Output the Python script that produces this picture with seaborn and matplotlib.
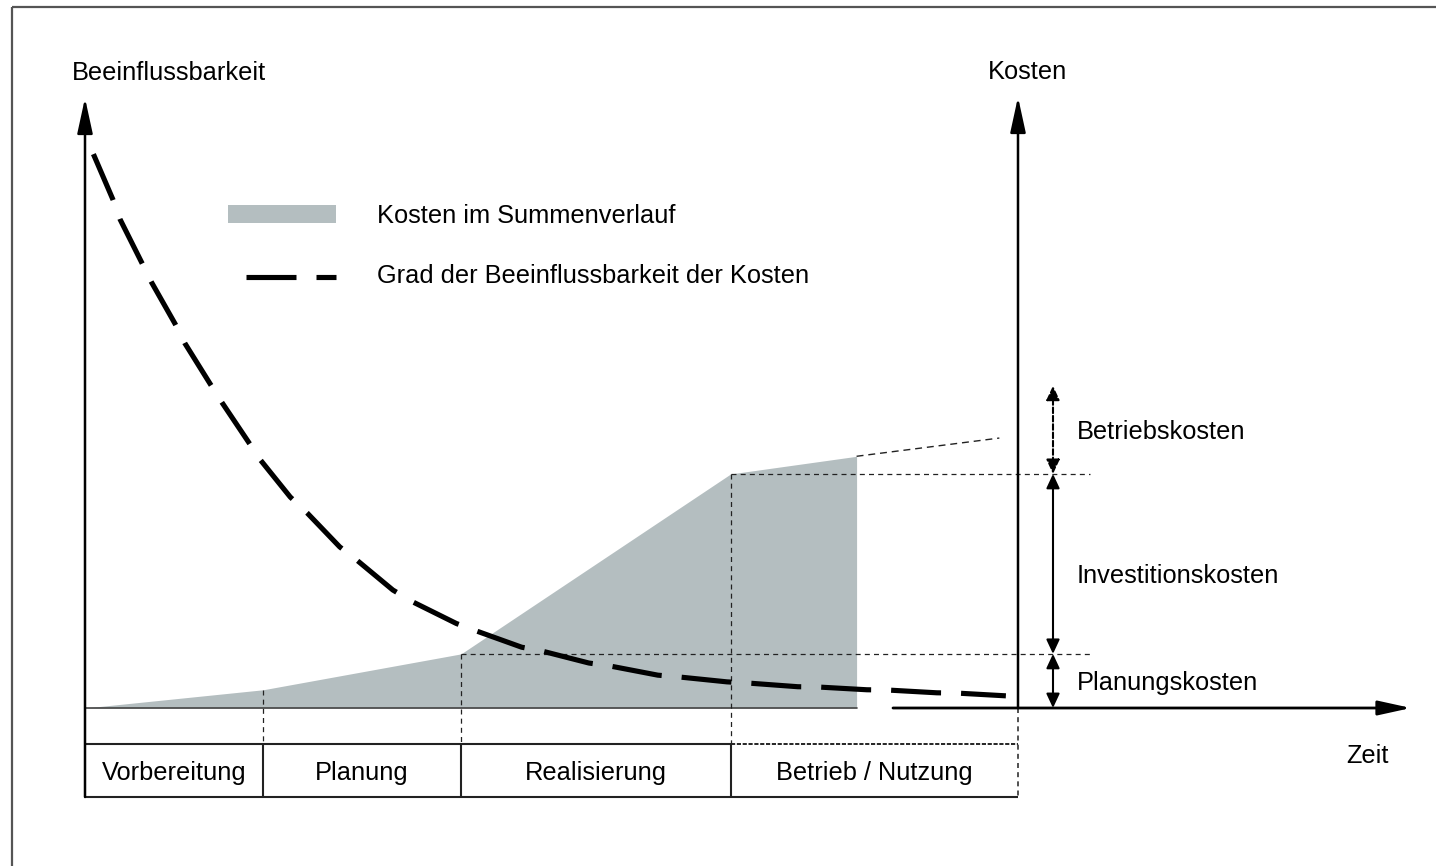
import matplotlib
matplotlib.use("Agg")
import matplotlib.pyplot as plt
import seaborn as sns
import pandas as pd

# ---------------- data ----------------
phase_names = ["Vorbereitung", "Planung", "Realisierung", "Betrieb / Nutzung"]
phase_bounds = [0.0, 1.91, 4.03, 6.92, 10.0]        # time units

cost_t = [0.0, 1.91, 4.03, 6.92, 8.27]              # cumulative cost curve
cost_v = [0.0, 3.0, 8.9, 38.5, 41.4]
cost_trend_t = [8.27, 9.8]
cost_trend_v = [41.4, 44.4]

infl_t = [0.09, 0.30, 0.375, 0.61, 0.71, 0.965, 1.07, 1.35, 1.47, 1.75, 1.88,
          2.20, 2.38, 2.73, 2.915, 3.30, 3.52, 3.98, 4.19, 4.68, 4.89, 5.40,
          5.63, 6.14, 6.37, 6.88, 7.11, 7.64, 7.86, 8.38, 8.61, 9.13, 9.35, 9.87]
infl_v = [91.1, 83.6, 80.4, 73.2, 70.1, 63.2, 60.0, 53.1, 50.2, 43.8, 40.8,
          34.7, 32.1, 26.5, 24.3, 19.4, 17.4, 13.9, 12.7, 10.0, 9.4, 7.4,
          6.9, 5.4, 5.1, 4.3, 4.1, 3.5, 3.45, 3.0, 2.95, 2.5, 2.45, 2.0]

cost_labels = ["Planungskosten", "Investitionskosten", "Betriebskosten"]
cost_levels = [0.0, 8.9, 38.5, 53.0]

legend_labels = ["Kosten im Summenverlauf", "Grad der Beeinflussbarkeit der Kosten"]
axis_labels = {"left": "Beeinflussbarkeit", "right": "Kosten", "time": "Zeit"}

# ---------------- layout ----------------
W, H, DPI = 1436, 866, 100
X0, SX = 85.0, 93.3      # pixel of t=0, pixels per time unit
Y0, SY = 708.0, 6.08     # pixel of v=0, pixels per value unit


def tx(px):
    return (px - X0) / SX


def vy(py):
    return (Y0 - py) / SY


GREY = "#b4bec0"
DARK = "#222222"
FONT = ["Liberation Sans", "DejaVu Sans"]
FS = 18.3

sns.set_theme(style="white")
plt.rcParams["font.family"] = FONT
plt.rcParams["text.color"] = "black"
plt.rcParams["lines.scale_dashes"] = False

fig = plt.figure(figsize=(W / DPI, H / DPI), dpi=DPI)
ax = fig.add_axes([0, 0, 1, 1])
ax.set_xlim(tx(0), tx(W))
ax.set_ylim(vy(H), vy(0))
ax.axis("off")

# outer frame (top and left edges visible)
ax.plot([tx(12), tx(W)], [vy(7), vy(7)], color="#555555", lw=1.6, solid_capstyle="butt")
ax.plot([tx(12), tx(12)], [vy(7), vy(H)], color="#555555", lw=1.6, solid_capstyle="butt")

# cumulative cost area
ax.fill_between(cost_t, 0, cost_v, color=GREY, lw=0, zorder=1)
ax.plot([cost_t[0], cost_t[-1]], [0, 0], color="#444444", lw=1.2, zorder=2)
ax.plot(cost_trend_t, cost_trend_v, color=DARK, lw=1.0, ls=(0, (5, 3.5)), zorder=2)

box_top, box_bot = vy(744), vy(797)
dot = (0, (3.6, 3.0))

# dotted guides
guide_right = tx(1090)
ax.plot([phase_bounds[2], guide_right], [cost_levels[1], cost_levels[1]], color=DARK, lw=0.9, ls=dot, zorder=3)
ax.plot([phase_bounds[3], guide_right], [cost_levels[2], cost_levels[2]], color=DARK, lw=0.9, ls=dot, zorder=3)
for t, v in zip(phase_bounds[1:4], cost_v[1:4]):
    ax.plot([t, t], [v, box_top], color=DARK, lw=0.9, ls=dot, zorder=3)
ax.plot([phase_bounds[4], phase_bounds[4]], [0, box_bot], color=DARK, lw=1.1, ls=dot, zorder=3)

# phase boxes
ax.plot([phase_bounds[0], phase_bounds[3]], [box_top, box_top], color=DARK, lw=1.5, solid_capstyle="butt")
ax.plot([phase_bounds[3], phase_bounds[4]], [box_top, box_top], color="black", lw=1.2, ls=(0, (3, 1.2)))
ax.plot([phase_bounds[0], phase_bounds[4]], [box_bot, box_bot], color=DARK, lw=1.5, solid_capstyle="butt")
for t in phase_bounds[1:4]:
    ax.plot([t, t], [box_top, box_bot], color=DARK, lw=1.5, solid_capstyle="butt")
for name, a, b in zip(phase_names, phase_bounds[:-1], phase_bounds[1:]):
    ax.text((a + b) / 2, vy(780), name, ha="center", va="baseline", fontsize=FS, color="black")


def arrow(x0, y0, x1, y1, hl, hw, lw, style="-|>", ls="-"):
    ax.annotate("", xy=(x1, y1), xytext=(x0, y0),
                arrowprops=dict(arrowstyle=f"{style},head_length={hl},head_width={hw}",
                                lw=lw, color="black", shrinkA=0, shrinkB=0,
                                linestyle=ls, mutation_scale=1), zorder=5)


# axes
arrow(0, box_bot, 0, vy(98), 21.6, 4.7, 1.8)
arrow(phase_bounds[4], 0, phase_bounds[4], vy(97), 21.6, 4.7, 1.8)
arrow(tx(893), 0, tx(1411), 0, 20, 4.4, 2.0)

# cost brackets
bx = tx(1053)
arrow(bx, cost_levels[0], bx, cost_levels[1], 8.6, 4.0, 1.5, style="<|-|>")
arrow(bx, cost_levels[1], bx, cost_levels[2], 8.6, 4.0, 1.5, style="<|-|>")
arrow(bx, cost_levels[2], bx, cost_levels[3], 8.6, 4.0, 1.5, style="<|-|>", ls=(0, (4, 2)))

for lab, py in zip(cost_labels, [690, 583, 439]):
    ax.text(tx(1077), vy(py), lab, ha="left", va="baseline", fontsize=FS, color="black")

# influence curve
df = pd.DataFrame({"t": infl_t, "v": infl_v})
sns.lineplot(data=df, x="t", y="v", ax=ax, color="black", lw=3.7,
             estimator=None, sort=False, legend=False, zorder=4)
infl_line = ax.lines[-1]
infl_line.set_linestyle((0, (36, 14.4)))
infl_line.set_dash_capstyle("butt")
infl_line.set_dash_joinstyle("round")
ax.set_xlabel("")
ax.set_ylabel("")
ax.set_xlim(tx(0), tx(W))
ax.set_ylim(vy(H), vy(0))
ax.axis("off")

# legend (manual)
ax.fill_between([tx(228), tx(336)], vy(223), vy(205), color=GREY, lw=0)
ax.plot([tx(246), tx(336)], [vy(277), vy(277)], color="black", lw=3.7,
        ls=(0, (36, 14.4)), dash_capstyle="butt")
ax.text(tx(377), vy(223), legend_labels[0], ha="left", va="baseline", fontsize=FS)
ax.text(tx(377), vy(283), legend_labels[1], ha="left", va="baseline", fontsize=FS)

# axis labels
ax.text(tx(72), vy(80), axis_labels["left"], ha="left", va="baseline", fontsize=FS)
ax.text(tx(988), vy(79), axis_labels["right"], ha="left", va="baseline", fontsize=FS)
ax.text(tx(1346), vy(763), axis_labels["time"], ha="left", va="baseline", fontsize=FS)

fig.savefig("out.png", dpi=DPI)
